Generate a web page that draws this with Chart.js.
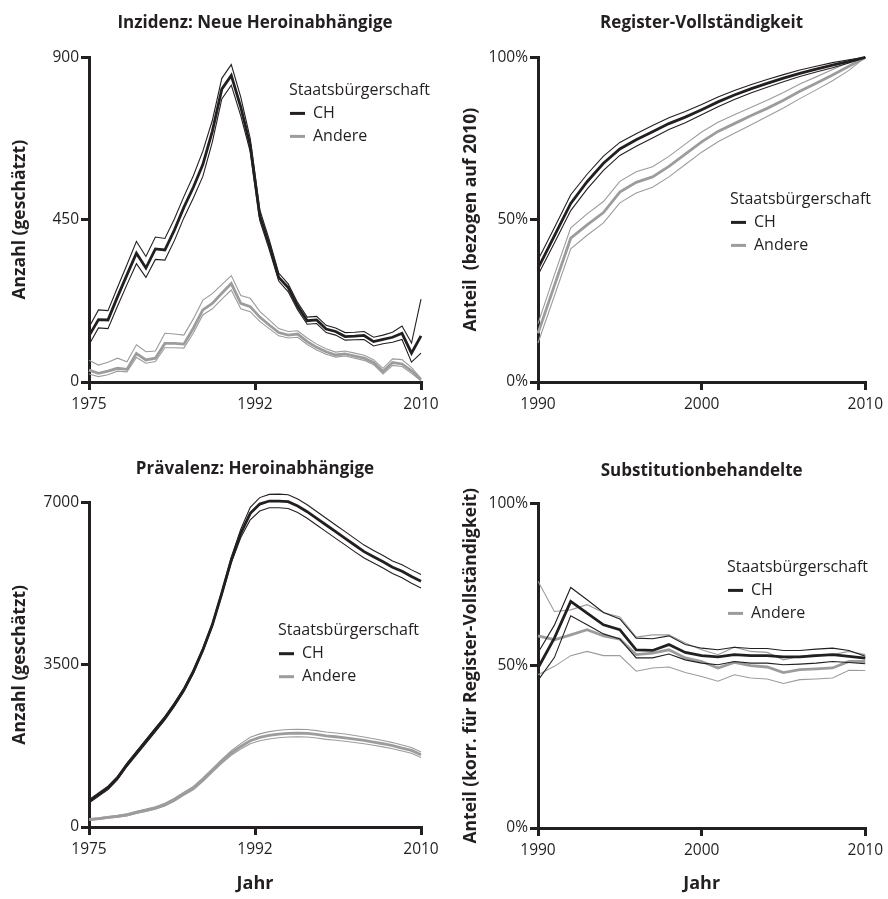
<!DOCTYPE html>
<html>
<head>
<meta charset="utf-8">
<script src="https://cdn.jsdelivr.net/npm/chart.js@4.4.1/dist/chart.umd.min.js"></script>
<style>
  html, body { margin: 0; padding: 0; background: #fff; }
  .panel { position: absolute; }
</style>
</head>
<body>
<div class="panel" style="left:0;top:0"><canvas id="chartInzidenz" width="444" height="420"></canvas></div>
<div class="panel" style="left:444px;top:0"><canvas id="chartRegister" width="444" height="420"></canvas></div>
<div class="panel" style="left:0;top:420px"><canvas id="chartPraevalenz" width="444" height="479"></canvas></div>
<div class="panel" style="left:444px;top:420px"><canvas id="chartSubstitution" width="444" height="479"></canvas></div>
<script>
//-----------------------------------------------------------------------------
// data (mid line + upper/lower band lines per group)
//-----------------------------------------------------------------------------
const incYears = [1975,1976,1977,1978,1979,1980,1981,1982,1983,1984,1985,1986,1987,1988,1989,1990,1991,1992,
                  1993,1994,1995,1996,1997,1998,1999,2000,2001,2002,2003,2004,2005,2006,2007,2008,2009,2010];
const regYears = [1990,1991,1992,1993,1994,1995,1996,1997,1998,1999,2000,2001,2002,2003,2004,2005,2006,2007,2008,2009,2010];

// Inzidenz
const incChMid = [128,173,172,236,297,357,316,369,366,421,484,540,603,695,812,850,762,655,462,380,290,262,210,170,172,147,140,126,127,129,112,118,124,135,80,128];
const incChHi  = [152,200,198,262,325,390,348,402,398,452,514,572,640,725,842,880,790,675,478,395,302,272,220,180,182,157,150,137,138,140,124,130,138,155,108,230];
const incChLo  = [103,150,148,210,270,328,290,340,338,392,455,510,570,665,785,823,738,638,448,367,280,250,200,160,162,137,130,116,117,118,100,106,110,118,55,80];
const incAnMid = [33,24,30,38,35,79,61,66,107,107,105,149,200,218,246,273,218,209,180,158,137,130,133,112,96,84,75,78,72,66,54,29,54,50,31,6];
const incAnHi  = [60,47,55,66,56,103,84,86,135,133,130,175,227,245,270,295,240,232,196,172,148,140,142,122,105,92,83,86,80,74,62,38,64,62,40,10];
const incAnLo  = [22,15,20,30,28,68,52,57,95,95,94,136,186,203,230,255,203,195,168,148,128,122,124,104,89,77,69,72,66,60,48,22,46,43,24,3];

// Register-Vollständigkeit (%)
const regChMid = [35,45,55,61.7,67.4,71.8,74.6,77.1,79.6,81.6,83.9,86.3,88.4,90.3,92.0,93.6,95.1,96.4,97.6,98.8,100];
const regChHi  = [37.6,47.5,57.7,64,69.6,73.8,76.5,79,81.4,83.3,85.5,87.8,89.8,91.6,93.2,94.7,96.1,97.3,98.4,99.3,100];
const regChLo  = [33,42.8,52.8,59.4,65.2,69.8,72.6,75.2,77.8,79.9,82.3,84.8,87,89,90.8,92.5,94.1,95.5,96.8,98.3,100];
const regAnMid = [15,29.7,44.3,48.4,52.2,58.5,61.5,63.2,66.4,70.2,74,77.2,79.6,82,84.3,86.8,89.6,92,94.6,97.3,100];
const regAnHi  = [18,33,47.5,51.8,55.6,61.8,64.8,66.3,69.5,73.3,77,80,82.3,84.6,86.8,89.2,91.8,94,96.3,98.5,100];
const regAnLo  = [12,26.5,41,45.2,49,55.2,58.2,60,63.2,67,70.8,74,76.6,79.2,81.8,84.4,87.3,90,92.8,96,100];

// Prävalenz
const prevChMid = [553,697,841,1057,1344,1596,1847,2099,2350,2638,2961,3356,3823,4363,5045,5764,6339,6770,6971,7036,7036,7022,6928,6806,6662,6519,6375,6231,6087,5944,5835,5725,5605,5520,5405,5305];
const prevChHi  = [590,735,880,1095,1380,1635,1885,2140,2390,2680,3000,3395,3860,4400,5085,5820,6430,6900,7110,7180,7185,7170,7080,6955,6810,6665,6520,6375,6230,6085,5970,5860,5740,5660,5550,5450];
const prevChLo  = [515,660,805,1020,1305,1555,1805,2060,2310,2600,2920,3315,3785,4325,5000,5700,6250,6630,6820,6890,6890,6875,6790,6665,6520,6375,6230,6090,5945,5805,5700,5590,5470,5380,5260,5160];
const prevAnMid = [158,180,208,230,259,316,359,410,482,589,719,841,1020,1222,1416,1596,1739,1861,1933,1976,2005,2020,2027,2020,1998,1969,1948,1926,1897,1869,1833,1797,1754,1703,1653,1560];
const prevAnHi  = [175,198,228,252,284,341,386,438,512,621,753,877,1058,1262,1460,1645,1800,1935,2010,2058,2088,2103,2110,2103,2080,2050,2028,2006,1975,1944,1905,1867,1822,1768,1715,1620];
const prevAnLo  = [140,162,188,210,236,292,333,382,452,557,686,805,982,1180,1372,1548,1682,1795,1860,1900,1928,1942,1948,1942,1920,1892,1872,1852,1825,1798,1764,1730,1690,1640,1592,1502];

// Substitutionbehandelte (%)
const subChMid = [49.3,58.5,69.8,66.2,62.6,61.1,54.9,54.7,56.5,54.1,53.1,52.7,53.4,53.1,53.1,52.7,52.7,53.1,53.4,52.9,52.3];
const subChHi  = [54,62.5,74.1,70.3,66.4,64.4,58.5,58.3,59.2,56.5,55.4,54.9,55.7,55.3,55.3,54.7,54.7,55.1,55.4,54.7,52.9];
const subChLo  = [45.5,52.5,65.4,62.6,59.8,58.2,52.4,52.4,53.6,51.8,50.8,50.3,51.3,50.8,50.8,50.3,50.5,50.8,51.3,51.0,50.6];
const subAnMid = [59.2,58,59.5,61.1,59.2,58.2,53.4,53.9,54.9,52.4,51.3,49.3,51,50,49.6,47.9,48.8,49,49.3,51.3,51.3];
const subAnHi  = [76,66.7,67.2,68.8,66.4,65,58.8,59.5,59.5,57,54.9,53.4,55.7,54.4,54.1,51.8,52.9,53.4,53.4,54.4,53.4];
const subAnLo  = [47.2,49.8,53.1,54.4,53.1,53.1,48.3,49.3,49.6,47.9,46.7,45.2,47.2,46.2,45.9,44.5,45.7,45.9,46.2,48.6,48.5];

// ticks / texts
const incXTicks  = [1975, 1992.5, 2010];
const incXLabels = ['1975', '1992', '2010'];
const regXTicks  = [1990, 2000, 2010];
const regXLabels = ['1990', '2000', '2010'];
const incYTicks  = [0, 450, 900];
const incYLabels = ['0', '450', '900'];
const prevYTicks = [0, 3500, 7000];
const prevYLabels = ['0', '3500', '7000'];
const pctYTicks  = [0, 50, 100];
const pctYLabels = ['0%', '50%', '100%'];

const legendTitle  = 'Staatsbürgerschaft';
const legendLabels = ['CH', 'Andere'];

const INK  = '#231f20';
const GREY = '#9c9c9c';
const FONT = '"Open Sans", "DejaVu Sans", sans-serif';

//-----------------------------------------------------------------------------
// legend drawn inside the plot area ("Staatsbürgerschaft" + CH / Andere)
//-----------------------------------------------------------------------------
const citizenLegend = {
    id: 'citizenLegend',
    afterDraw(chart, args, opts) {
        const {ctx, chartArea} = chart;
        const x = chartArea.left + opts.dx;
        const y = chartArea.top + opts.dy;
        const colors = [INK, GREY];
        ctx.save();
        ctx.font = `16px ${FONT}`;
        ctx.fillStyle = INK;
        ctx.textBaseline = 'middle';
        ctx.textAlign = 'left';
        ctx.fillText(legendTitle, x, y);
        legendLabels.forEach((label, i) => {
            const ly = y + 23 * (i + 1);
            ctx.strokeStyle = colors[i];
            ctx.lineWidth = 3;
            ctx.beginPath();
            ctx.moveTo(x + 1, ly);
            ctx.lineTo(x + 16, ly);
            ctx.stroke();
            ctx.fillStyle = INK;
            ctx.fillText(label, x + 24, ly);
        });
        ctx.restore();
    }
};

//-----------------------------------------------------------------------------
function lineSet(years, values, color, width) {
    return {
        data: years.map((yr, i) => ({x: yr, y: values[i]})),
        borderColor: color,
        borderWidth: width,
        pointRadius: 0,
        tension: 0,
        fill: false,
        clip: false      // band lines poke above the top tick in the Prävalenz panel
    };
}

//-----------------------------------------------------------------------------
// one panel = one chart; plot-area position is pinned with afterFit
//-----------------------------------------------------------------------------
function makePanel(canvasId, p) {
    const s = p.series;
    const datasets = [
        lineSet(p.years, s.chMid, INK, 2.8),
        lineSet(p.years, s.chHi,  INK, 1.1),
        lineSet(p.years, s.chLo,  INK, 1.1),
        lineSet(p.years, s.anMid, GREY, 2.8),
        lineSet(p.years, s.anHi,  GREY, 1.1),
        lineSet(p.years, s.anLo,  GREY, 1.1)
    ];

    const axisGrid = {
        display: true,
        drawOnChartArea: false,
        drawTicks: true,
        tickLength: 8,
        tickWidth: 3,
        tickColor: INK,
        color: INK,
        lineWidth: 3
    };

    new Chart(document.getElementById(canvasId).getContext('2d'), {
        type: 'line',
        data: {datasets},
        plugins: [citizenLegend],
        options: {
            responsive: false,
            animation: false,
            layout: {padding: {left: 0, right: p.padRight, top: 0, bottom: 0}},
            plugins: {
                legend: {display: false},
                tooltip: {enabled: false},
                title: {
                    display: true,
                    text: p.title,
                    fullSize: false,
                    color: INK,
                    font: {family: FONT, size: 17, weight: 'bold', lineHeight: 1.2},
                    padding: {top: p.titleTop, bottom: p.titleBottom}
                },
                citizenLegend: p.legend
            },
            scales: {
                x: {
                    type: 'linear',
                    min: p.xTicks[0],
                    max: p.xTicks[p.xTicks.length - 1],
                    afterBuildTicks: sc => { sc.ticks = p.xTicks.map(v => ({value: v})); },
                    afterFit: sc => { sc.height = p.xHeight; },
                    ticks: {
                        autoSkip: false, maxRotation: 0, padding: 5, color: INK,
                        font: {family: FONT, size: 15.5},
                        callback: (v, i) => p.xLabels[i]
                    },
                    grid: axisGrid,
                    border: {display: true, color: INK, width: 3},
                    title: {
                        display: !!p.xTitle,
                        text: p.xTitle || '',
                        color: INK,
                        font: {family: FONT, size: 18, weight: 'bold', lineHeight: 1.2},
                        padding: {top: 0, bottom: 4}
                    }
                },
                y: {
                    type: 'linear',
                    min: p.yTicks[0],
                    max: p.yTicks[p.yTicks.length - 1],
                    afterBuildTicks: sc => { sc.ticks = p.yTicks.map(v => ({value: v})); },
                    afterFit: sc => { sc.width = p.yWidth; },
                    ticks: {
                        autoSkip: false, padding: 2, color: INK,
                        font: {family: FONT, size: 15.5},
                        callback: (v, i) => p.yLabels[i]
                    },
                    grid: axisGrid,
                    border: {display: true, color: INK, width: 3},
                    title: {
                        display: true,
                        text: p.yTitle,
                        color: INK,
                        font: {family: FONT, size: 17.5, weight: 'bold', lineHeight: 1.2},
                        padding: {top: p.yTitlePad, bottom: 0}
                    }
                }
            }
        }
    });
}

//-----------------------------------------------------------------------------
makePanel('chartInzidenz', {
    title: 'Inzidenz: Neue Heroinabhängige', titleTop: 13, titleBottom: 24,
    yTitle: 'Anzahl (geschätzt)', yTitlePad: 9.5, xTitle: null,
    years: incYears, xTicks: incXTicks, xLabels: incXLabels, yTicks: incYTicks, yLabels: incYLabels,
    yWidth: 89, xHeight: 38, padRight: 23, legend: {dx: 200, dy: 33},
    series: {chMid: incChMid, chHi: incChHi, chLo: incChLo, anMid: incAnMid, anHi: incAnHi, anLo: incAnLo}
});

makePanel('chartRegister', {
    title: 'Register-Vollständigkeit', titleTop: 13, titleBottom: 24,
    yTitle: 'Anteil  (bezogen auf 2010)', yTitlePad: 16.5, xTitle: null,
    years: regYears, xTicks: regXTicks, xLabels: regXLabels, yTicks: pctYTicks, yLabels: pctYLabels,
    yWidth: 94, xHeight: 38, padRight: 20, legend: {dx: 192, dy: 142},
    series: {chMid: regChMid, chHi: regChHi, chLo: regChLo, anMid: regAnMid, anHi: regAnHi, anLo: regAnLo}
});

makePanel('chartPraevalenz', {
    title: 'Prävalenz: Heroinabhängige', titleTop: 39, titleBottom: 23.3,
    yTitle: 'Anzahl (geschätzt)', yTitlePad: 9.5, xTitle: 'Jahr',
    years: incYears, xTicks: incXTicks, xLabels: incXLabels, yTicks: prevYTicks, yLabels: prevYLabels,
    yWidth: 89, xHeight: 72, padRight: 23, legend: {dx: 189, dy: 128},
    series: {chMid: prevChMid, chHi: prevChHi, chLo: prevChLo, anMid: prevAnMid, anHi: prevAnHi, anLo: prevAnLo}
});

makePanel('chartSubstitution', {
    title: 'Substitutionbehandelte', titleTop: 41, titleBottom: 22,
    yTitle: 'Anteil (korr. für Register-Vollständigkeit)', yTitlePad: 16.5, xTitle: 'Jahr',
    years: regYears, xTicks: regXTicks, xLabels: regXLabels, yTicks: pctYTicks, yLabels: pctYLabels,
    yWidth: 94, xHeight: 71, padRight: 20, legend: {dx: 189, dy: 64},
    series: {chMid: subChMid, chHi: subChHi, chLo: subChLo, anMid: subAnMid, anHi: subAnHi, anLo: subAnLo}
});
</script>
</body>
</html>
